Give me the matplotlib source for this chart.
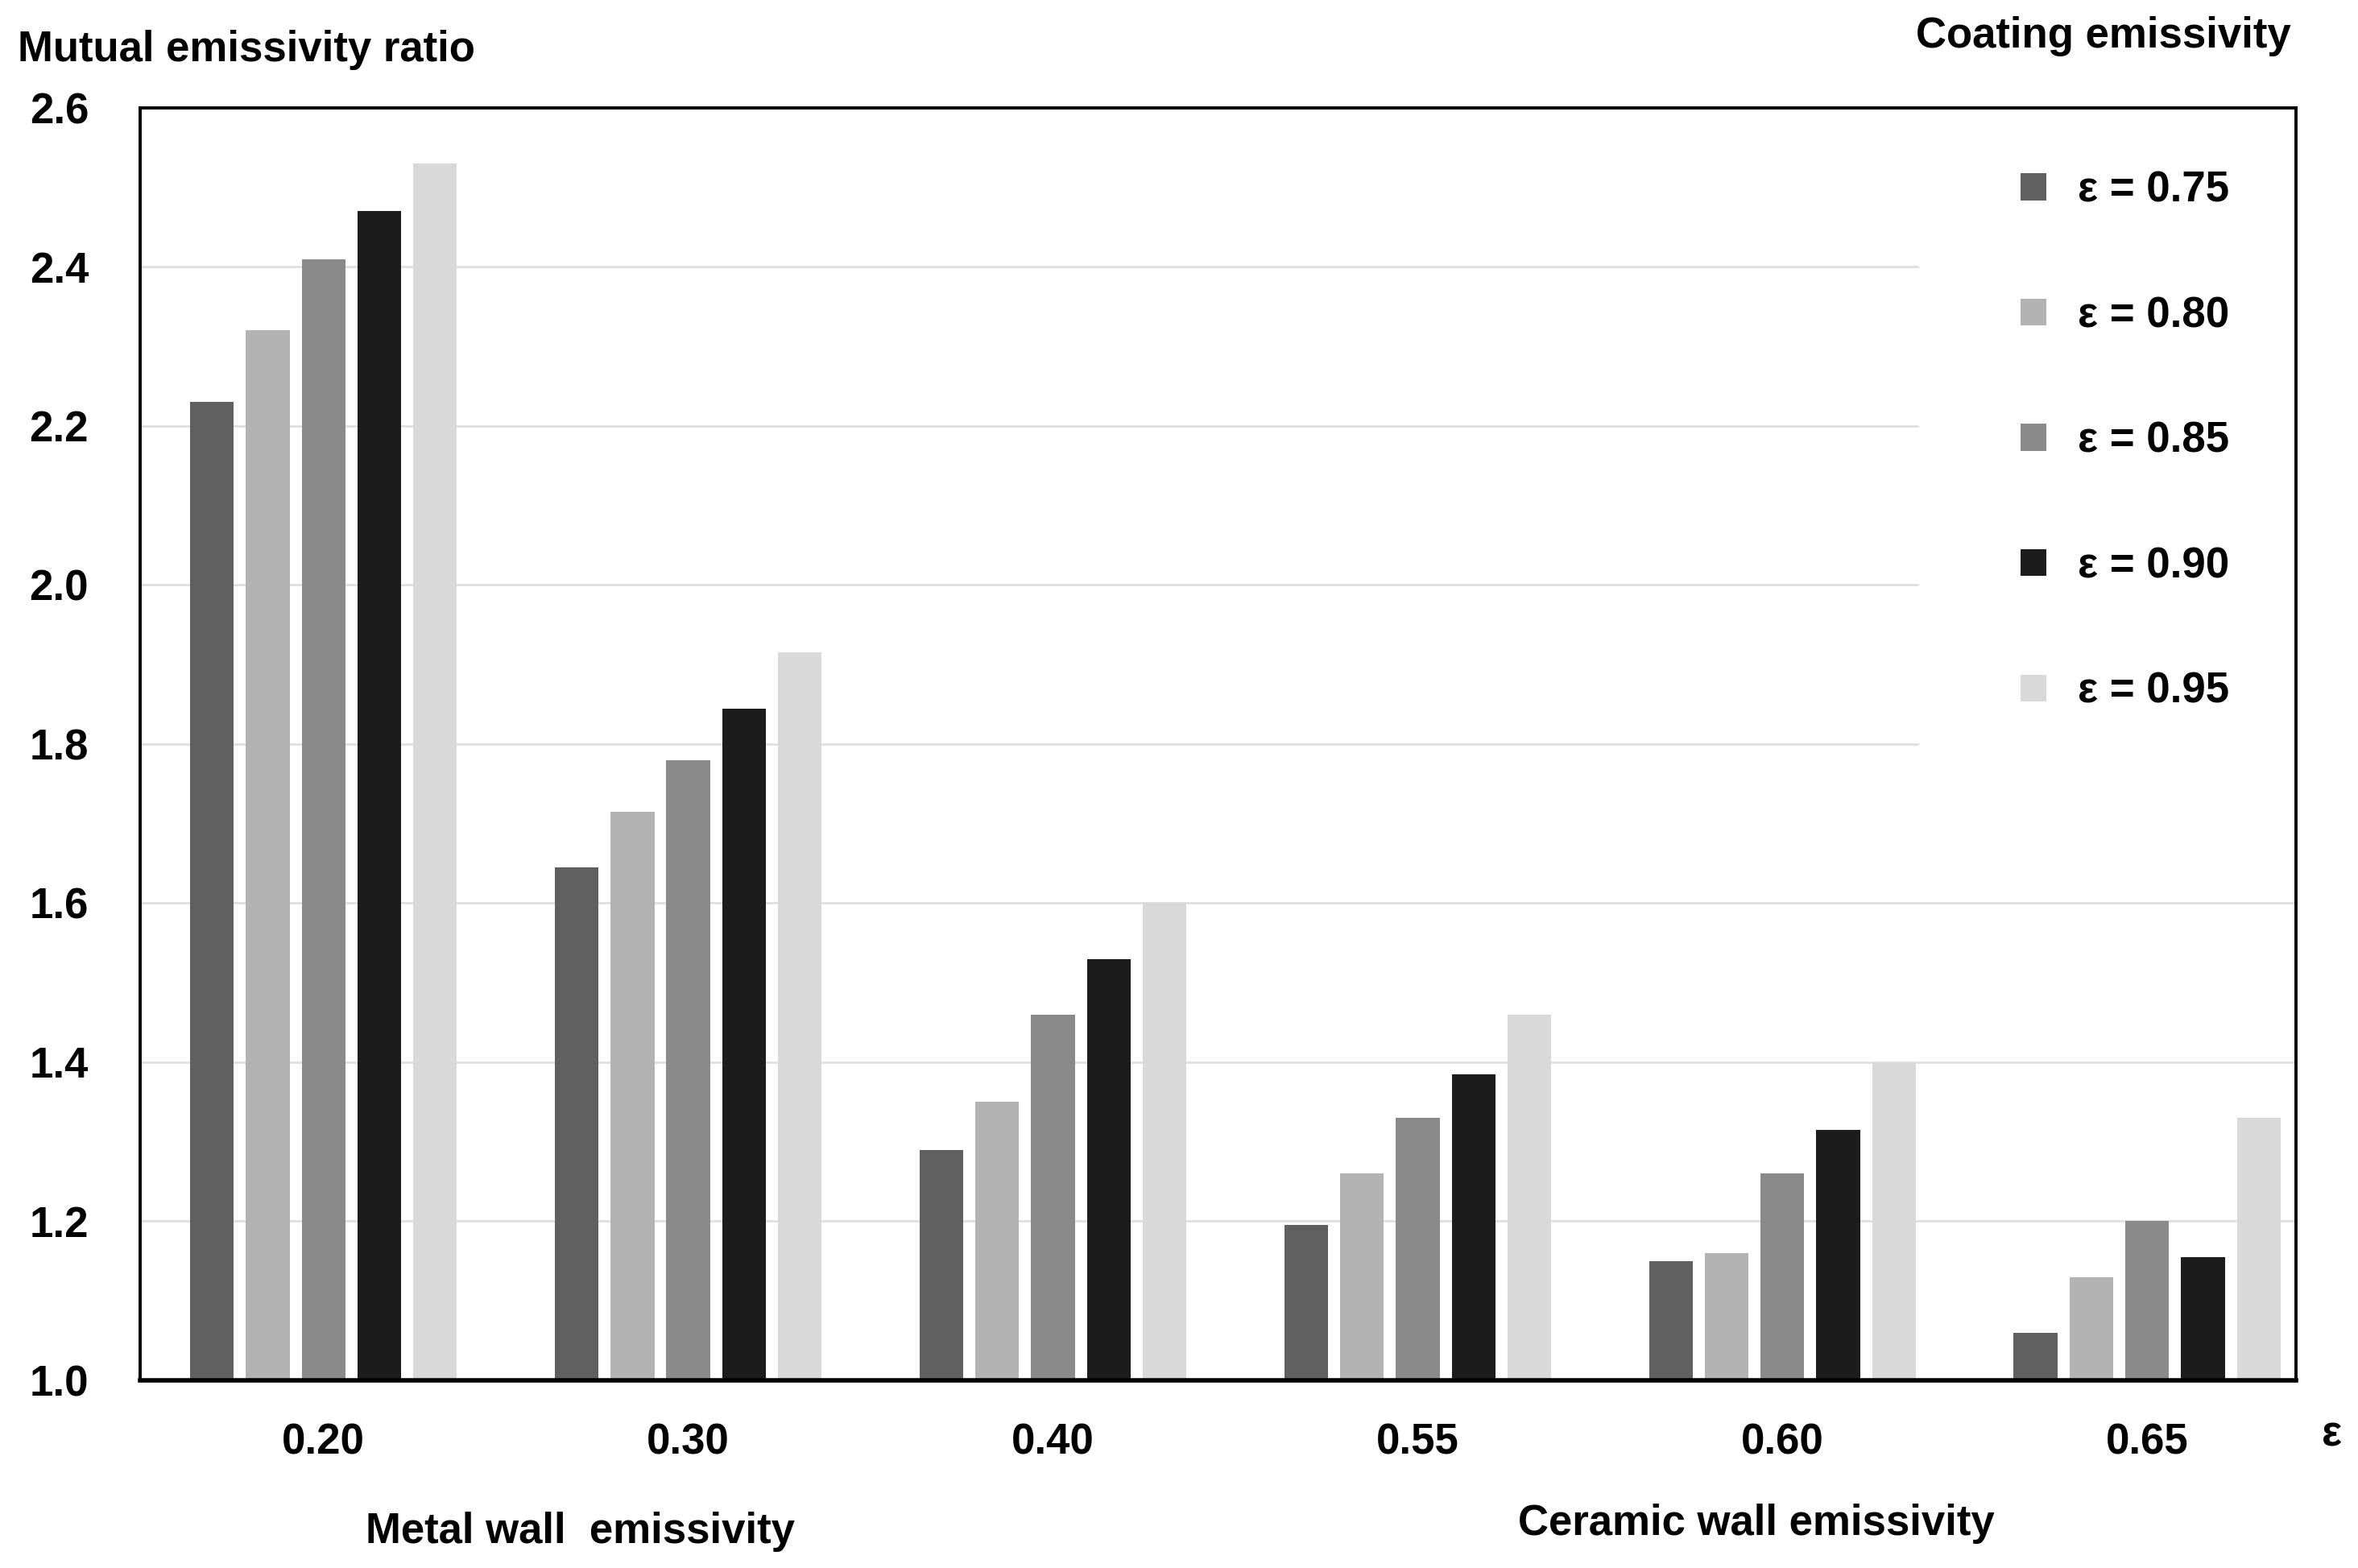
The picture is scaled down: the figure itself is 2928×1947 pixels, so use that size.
import matplotlib
matplotlib.use('Agg')
import matplotlib.pyplot as plt
import numpy as np

plt.rcParams['font.family'] = ['Liberation Sans', 'DejaVu Sans']
plt.rcParams['font.weight'] = 'bold'

# wall emissivity groups (metal 0.20-0.40, ceramic 0.55-0.65)
groups = ['0.20', '0.30', '0.40', '0.55', '0.60', '0.65']
coating = ['ε = 0.75', 'ε = 0.80', 'ε = 0.85', 'ε = 0.90', 'ε = 0.95']
colors = ['#606060', '#b3b3b3', '#8a8a8a', '#1c1c1c', '#d9d9d9']

# mutual emissivity ratio, one list per coating emissivity
e075 = [2.23, 1.645, 1.29, 1.195, 1.15, 1.06]
e080 = [2.32, 1.715, 1.35, 1.26, 1.16, 1.13]
e085 = [2.41, 1.78, 1.46, 1.33, 1.26, 1.20]
e090 = [2.47, 1.845, 1.53, 1.385, 1.315, 1.155]
e095 = [2.53, 1.915, 1.60, 1.46, 1.40, 1.33]
series = [e075, e080, e085, e090, e095]

yticks = [1.0, 1.2, 1.4, 1.6, 1.8, 2.0, 2.2, 2.4, 2.6]

fig = plt.figure(figsize=(14.64, 9.735), dpi=200)
ax = fig.add_axes([0.0594, 0.1197, 0.9143, 0.8115])

x = np.arange(len(groups))
width = 0.12
step = 0.153
handles = []
for i, vals in enumerate(series):
    b = ax.bar(x + (i - 2) * step, np.array(vals) - 1.0, width, bottom=1.0,
               color=colors[i], label=coating[i], zorder=1)
    handles.append(b)

ax.set_xlim(-0.503, 5.408)
ax.set_ylim(1.0, 2.6)
ax.set_yticks(yticks)
ax.set_yticklabels(['%.1f' % v for v in yticks])
ax.set_xticks(x)
ax.set_xticklabels(groups)
ax.tick_params(axis='both', length=0, labelsize=19)
ax.tick_params(axis='y', pad=23)
ax.tick_params(axis='x', pad=19)
for lab in ax.get_xticklabels() + ax.get_yticklabels():
    lab.set_fontweight('bold')

ax.set_axisbelow(True)
ax.yaxis.grid(True, color='#e0e0e0', linewidth=1.0)
for s in ['left', 'right', 'top']:
    ax.spines[s].set_linewidth(1.4)
ax.spines['bottom'].set_linewidth(2.0)

leg = ax.legend(handles=handles, loc='upper left', bbox_to_anchor=(0.825, 1.031),
                frameon=True, fancybox=False, edgecolor='none', facecolor='white',
                framealpha=1.0, fontsize=19, labelspacing=2.0, handlelength=0.6,
                handleheight=0.6, handletextpad=0.75, borderpad=2.4, borderaxespad=0.0)
leg.set_zorder(2.2)
for t in leg.get_texts():
    t.set_fontweight('bold')

fig.text(0.0075, 0.968, 'Mutual emissivity ratio', fontsize=19, fontweight='bold',
         ha='left', va='center')
fig.text(0.892, 0.977, 'Coating emissivity', fontsize=19, fontweight='bold',
         ha='center', va='center')
fig.text(0.246, 0.023, 'Metal wall  emissivity', fontsize=19, fontweight='bold',
         ha='center', va='center')
fig.text(0.745, 0.028, 'Ceramic wall emissivity', fontsize=19, fontweight='bold',
         ha='center', va='center')
fig.text(0.989, 0.085, 'ε', fontsize=19, fontweight='bold', ha='center', va='center')

fig.savefig('out.png', dpi=200)
